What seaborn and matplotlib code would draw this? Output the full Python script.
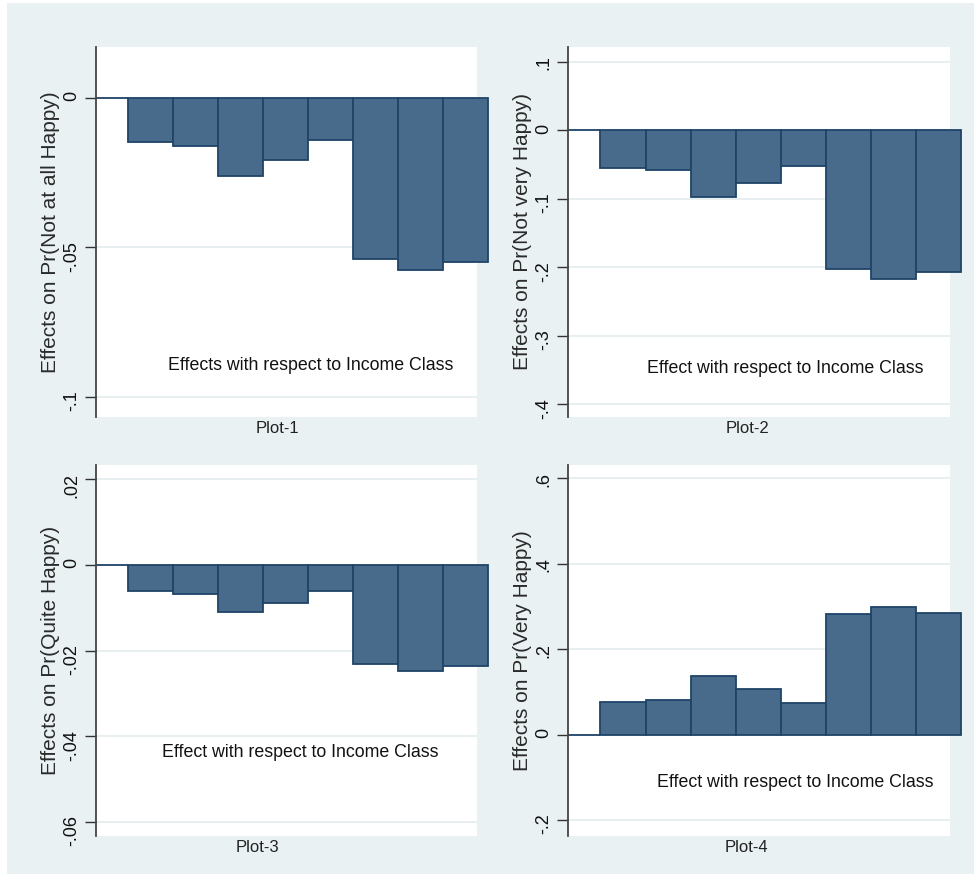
import numpy as np
import pandas as pd
import seaborn as sns
import matplotlib.pyplot as plt
from matplotlib.patches import Rectangle

# Income classes (x categories, ticks hidden like in the original)
income_class = ["1", "2", "3", "4", "5", "6", "7", "8", "9"]

# Marginal effects per income class
not_at_all_happy = [0.0, -0.0148, -0.0160, -0.0260, -0.0209, -0.0142, -0.0538, -0.0576, -0.0548]
not_very_happy = [0.0, -0.0546, -0.0584, -0.0978, -0.0769, -0.0521, -0.2020, -0.2170, -0.2073]
quite_happy = [0.0, -0.0061, -0.0068, -0.0110, -0.0088, -0.0061, -0.0232, -0.0248, -0.0236]
very_happy = [0.0, 0.0772, 0.0804, 0.1365, 0.1076, 0.0741, 0.2823, 0.2987, 0.2854]

ylabels = ["Effects on Pr(Not at all Happy)", "Effects on Pr(Not very Happy)",
           "Effects on Pr(Quite Happy)", "Effects on Pr(Very Happy)"]
notes = ["Effects with respect to Income Class", "Effect with respect to Income Class",
         "Effect with respect to Income Class", "Effect with respect to Income Class"]
xlabels = ["Plot-1", "Plot-2", "Plot-3", "Plot-4"]

yticks = [[0, -0.05, -0.1], [0.1, 0, -0.1, -0.2, -0.3, -0.4],
          [0.02, 0, -0.02, -0.04, -0.06], [0.6, 0.4, 0.2, 0, -0.2]]
ytick_labels = [["0", "-.05", "-.1"], [".1", "0", "-.1", "-.2", "-.3", "-.4"],
                [".02", "0", "-.02", "-.04", "-.06"], [".6", ".4", ".2", "0", "-.2"]]
ylims = [(-0.1067, 0.017), (-0.4185, 0.1216), (-0.0633, 0.0233), (-0.237, 0.631)]

BG = "#e9f1f3"
BAR = "#486a8b"
EDGE = "#1f4468"
GRID = "#e3ecef"

sns.set_style("white")
plt.rcParams["font.family"] = ["Liberation Sans", "DejaVu Sans"]

fig = plt.figure(figsize=(9.74, 8.74), dpi=100, facecolor="white")
fig.patches.append(Rectangle((7 / 974, 0), 1, 871 / 874, transform=fig.transFigure,
                             facecolor=BG, edgecolor="none", zorder=-10))

positions = [
    [96 / 974, 457 / 874, 381 / 974, 370 / 874],
    [568 / 974, 457 / 874, 382 / 974, 370 / 874],
    [96 / 974, 38 / 874, 381 / 974, 371 / 874],
    [568 / 974, 38 / 874, 382 / 974, 371 / 874],
]
note_pos = [(0.189, 0.14), (0.206, 0.132), (0.173, 0.224), (0.232, 0.143)]
xlabel_x = [0.475, 0.471, 0.425, 0.468]

series = [not_at_all_happy, not_very_happy, quite_happy, very_happy]

for i, vals in enumerate(series):
    ax = fig.add_axes(positions[i])
    df = pd.DataFrame({"cls": income_class, "effect": vals})
    sns.barplot(data=df, x="cls", y="effect", order=income_class, ax=ax,
                width=1, color=BAR, saturation=1, edgecolor=EDGE, linewidth=1.3)
    # bars run past the plot region like in the Stata original
    for j, p in enumerate(ax.patches):
        if j > 0:
            p.set_clip_on(False)
    ax.set_facecolor("white")
    ax.set_xlim(-0.218, 8.25)
    ax.set_ylim(*ylims[i])
    ax.set_yticks(yticks[i])
    ax.set_yticklabels(ytick_labels[i])
    for t in yticks[i]:
        ax.axhline(t, color=GRID, lw=1.2, zorder=0)
    ax.tick_params(axis="y", labelrotation=90, length=8, width=1, color="#333333",
                   labelsize=13, pad=3, labelcolor="#111111", left=True)
    ax.tick_params(axis="x", bottom=False, labelbottom=False)
    for s in ["top", "right", "bottom"]:
        ax.spines[s].set_visible(False)
    ax.spines["left"].set_color("#444444")
    ax.spines["left"].set_linewidth(1.3)
    ax.set_ylabel(ylabels[i], fontsize=15, color="#2a2a2a", labelpad=3)
    ax.set_xlabel(xlabels[i], fontsize=12, color="#222222")
    ax.xaxis.set_label_coords(xlabel_x[i], -0.012)
    ax.xaxis.label.set_va("top")
    ax.text(note_pos[i][0], note_pos[i][1], notes[i], transform=ax.transAxes,
            fontsize=12.8, color="#111111", ha="left", va="center")

fig.savefig("out.png", dpi=100, facecolor=fig.get_facecolor())
